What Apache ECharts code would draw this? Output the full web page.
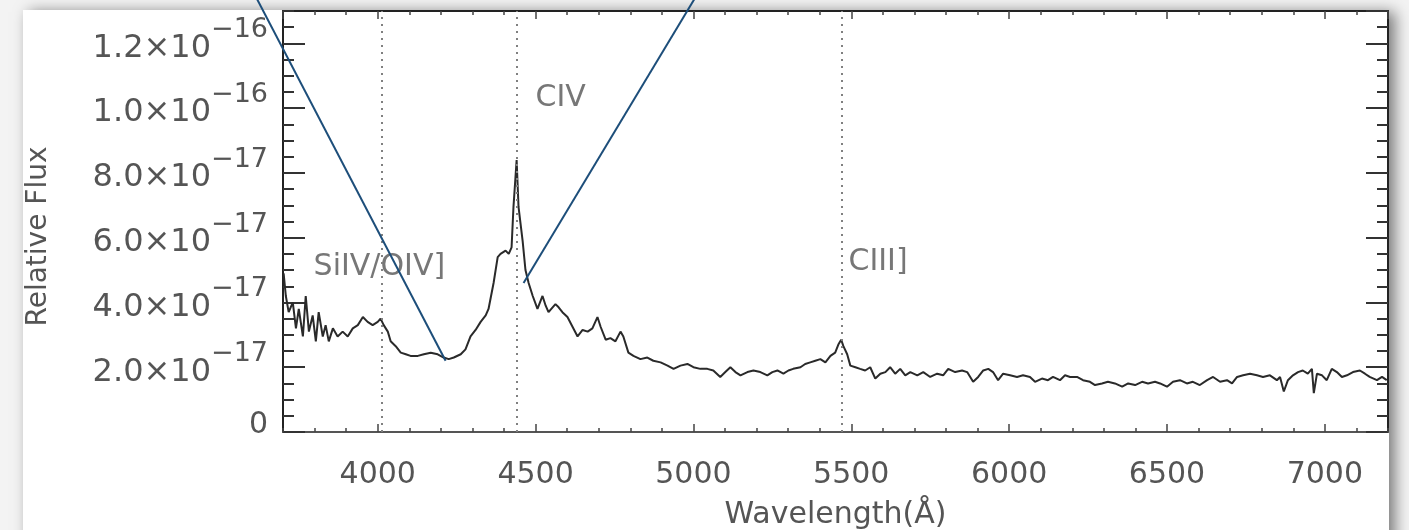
<!DOCTYPE html>
<html>
<head>
<meta charset="utf-8">
<script src="https://cdn.jsdelivr.net/npm/echarts@6/dist/echarts.min.js"></script>
<style>
  html, body { margin: 0; padding: 0; background: #f3f3f3; }
  #card {
    position: absolute; left: 23px; top: 10px; width: 1366px; height: 560px;
    background: #fff; box-shadow: 6px 2px 14px rgba(0, 0, 0, 0.5);
  }
  #main { position: absolute; left: 0; top: 0; width: 1409px; height: 530px; }
</style>
</head>
<body>
<div id="card"></div>
<div id="main"></div>
<script>
// spectrum, flux in units of 1e-17
const wavelength = [
  3702, 3709, 3718, 3731, 3741, 3750, 3763, 3772, 3782, 3794,
  3804, 3813, 3826, 3835, 3845, 3858, 3873, 3889, 3905, 3921,
  3937, 3953, 3968, 3984, 4000, 4009, 4019, 4032, 4041, 4057,
  4073, 4089, 4104, 4127, 4146, 4168, 4190, 4209, 4225, 4241,
  4263, 4278, 4294, 4310, 4326, 4342, 4351, 4367, 4380, 4389,
  4405, 4415, 4424, 4430, 4440, 4446, 4459, 4468, 4478, 4491,
  4506, 4522, 4532, 4541, 4554, 4563, 4573, 4585, 4601, 4617,
  4633, 4649, 4665, 4680, 4696, 4706, 4722, 4737, 4753, 4769,
  4778, 4794, 4810, 4832, 4854, 4873, 4896, 4918, 4937, 4959,
  4981, 5000, 5022, 5044, 5063, 5085, 5101, 5117, 5133, 5149,
  5171, 5190, 5212, 5234, 5250, 5266, 5285, 5301, 5316, 5339,
  5354, 5370, 5386, 5402, 5418, 5434, 5449, 5459, 5468, 5475,
  5487, 5497, 5513, 5528, 5544, 5560, 5576, 5592, 5608, 5623,
  5639, 5655, 5671, 5687, 5709, 5728, 5750, 5772, 5791, 5807,
  5829, 5851, 5867, 5886, 5902, 5918, 5934, 5949, 5965, 5981,
  6003, 6025, 6044, 6066, 6082, 6104, 6123, 6139, 6161, 6177,
  6193, 6215, 6234, 6256, 6272, 6294, 6313, 6335, 6358, 6377,
  6399, 6421, 6440, 6462, 6478, 6500, 6519, 6541, 6563, 6582,
  6604, 6627, 6646, 6668, 6690, 6706, 6722, 6741, 6763, 6785,
  6804, 6826, 6848, 6858, 6870, 6883, 6899, 6915, 6930, 6946,
  6959, 6965, 6975, 6991, 7006, 7022, 7038, 7054, 7070, 7089,
  7111, 7127, 7142, 7165, 7181, 7196
];
const flux = [
  4.9, 4.2, 3.7, 4.0, 3.2, 3.8, 2.95, 4.2, 3.1, 3.6,
  2.8, 3.7, 2.95, 3.3, 2.8, 3.2, 2.95, 3.1, 2.95, 3.2,
  3.3, 3.55, 3.4, 3.3, 3.4, 3.5, 3.3, 3.1, 2.8, 2.65,
  2.45, 2.4, 2.35, 2.35, 2.4, 2.45, 2.4, 2.3, 2.25, 2.3,
  2.4, 2.55, 2.95, 3.15, 3.4, 3.6, 3.8, 4.6, 5.4, 5.5,
  5.6, 5.5, 5.7, 6.95, 8.4, 6.95, 5.9, 5.0, 4.6, 4.2,
  3.8, 4.2, 3.9, 3.7, 3.85, 3.95, 3.85, 3.7, 3.55, 3.25,
  2.95, 3.15, 3.1, 3.2, 3.55, 3.25, 2.85, 2.9, 2.8, 3.1,
  2.95, 2.45, 2.35, 2.25, 2.3, 2.2, 2.15, 2.05, 1.95, 2.05,
  2.1, 2.0, 1.95, 1.95, 1.9, 1.7, 1.85, 2.0, 1.85, 1.75,
  1.85, 1.9, 1.85, 1.75, 1.85, 1.9, 1.8, 1.9, 1.95, 2.0,
  2.1, 2.15, 2.2, 2.25, 2.15, 2.35, 2.45, 2.7, 2.85, 2.65,
  2.4, 2.05, 2.0, 1.95, 1.9, 2.0, 1.65, 1.8, 1.85, 2.0,
  1.8, 1.95, 1.75, 1.85, 1.75, 1.85, 1.7, 1.8, 1.75, 1.95,
  1.85, 1.9, 1.85, 1.55, 1.7, 1.9, 1.95, 1.85, 1.6, 1.8,
  1.75, 1.7, 1.75, 1.7, 1.55, 1.65, 1.6, 1.7, 1.6, 1.75,
  1.7, 1.7, 1.6, 1.55, 1.45, 1.5, 1.55, 1.5, 1.4, 1.5,
  1.45, 1.55, 1.5, 1.55, 1.5, 1.4, 1.55, 1.6, 1.5, 1.55,
  1.45, 1.6, 1.7, 1.55, 1.6, 1.5, 1.7, 1.75, 1.8, 1.75,
  1.7, 1.75, 1.6, 1.7, 1.25, 1.6, 1.75, 1.85, 1.9, 1.8,
  1.95, 1.2, 1.8, 1.75, 1.6, 1.95, 1.85, 1.7, 1.75, 1.85,
  1.9, 1.8, 1.7, 1.6, 1.7, 1.6
];

// emission lines (observed wavelength) and their labels
const lineCenters = [4013, 4440, 5471];
const lineNames = ['SiIV/OIV]', 'CIV', 'CIII]'];
const lineLabelX = [3797, 4500, 5491];
const lineLabelY = [5.1, 10.3, 5.25];

// the two blue annotation strokes drawn over the figure (data coords)
const annotA = [[3584, 14], [4215, 2.2]];
const annotB = [[4462, 4.6], [5042, 14]];

// y tick labels
const yTickValues = [0, 2, 4, 6, 8, 10, 12];
const yTickMantissa = ['0', '2.0', '4.0', '6.0', '8.0', '1.0', '1.2'];
const yTickExponent = ['', '\u221217', '\u221217', '\u221217', '\u221217', '\u221216', '\u221216'];

const X_MIN = 3700, X_MAX = 7200;
const Y_MIN = 0, Y_MAX = 13;

const FONT = 'DejaVu Sans';
const TXT = '#555';

const chart = echarts.init(document.getElementById('main'), null, { renderer: 'canvas' });

function yLabel(v) {
  const i = yTickValues.findIndex(t => Math.abs(t - v) < 1e-6);
  if (i < 0) return '';
  if (!yTickExponent[i]) return '{z|' + yTickMantissa[i] + '}';
  return '{m|' + yTickMantissa[i] + '\u00d710}{e|' + yTickExponent[i] + '}';
}

const hidden = { show: false };

const option = {
  backgroundColor: 'transparent',
  animation: false,
  grid: { left: 283, right: 21, top: 11, bottom: 98, outerBoundsMode: 'none', containLabel: false },
  xAxis: [
    {
      type: 'value', position: 'bottom', min: X_MIN, max: X_MAX, splitNumber: 7,
      axisLine: { onZero: false, lineStyle: { color: '#555', width: 2 } },
      axisTick: { inside: true, length: 8, lineStyle: { color: '#444', width: 1.5 } },
      axisLabel: {
        fontSize: 30, color: TXT, fontFamily: FONT, margin: 28,
        showMinLabel: false, showMaxLabel: false, formatter: v => String(v)
      },
      splitLine: hidden,
      name: 'Wavelength(\u00c5)', nameLocation: 'middle', nameGap: 68,
      nameTextStyle: { fontSize: 30, color: TXT, fontFamily: FONT }
    },
    {
      type: 'value', position: 'bottom', min: X_MIN, max: X_MAX, interval: 100,
      axisLine: { show: false, onZero: false },
      axisTick: { inside: true, length: 4, lineStyle: { color: '#444', width: 1.5 } },
      axisLabel: hidden, splitLine: hidden
    },
    {
      type: 'value', position: 'top', min: X_MIN, max: X_MAX, splitNumber: 7,
      axisLine: { onZero: false, lineStyle: { color: '#222', width: 2 } },
      axisTick: { inside: true, length: 8, lineStyle: { color: '#444', width: 1.5 } },
      axisLabel: hidden, splitLine: hidden
    },
    {
      type: 'value', position: 'top', min: X_MIN, max: X_MAX, interval: 100,
      axisLine: { show: false, onZero: false },
      axisTick: { inside: true, length: 4, lineStyle: { color: '#444', width: 1.5 } },
      axisLabel: hidden, splitLine: hidden
    }
  ],
  yAxis: [
    {
      type: 'value', position: 'left', min: Y_MIN, max: Y_MAX, interval: 2,
      axisLine: { show: true, onZero: false, lineStyle: { color: '#222', width: 2 } },
      axisTick: { show: true, inside: true, length: 22, lineStyle: { color: '#333', width: 2 } },
      axisLabel: {
        margin: 15, showMaxLabel: false, formatter: yLabel,
        rich: {
          m: { fontSize: 32, color: TXT, fontFamily: FONT, padding: [10, 0, 0, 0] },
          e: { fontSize: 27, color: TXT, fontFamily: FONT, padding: [0, 0, 26, 0] },
          z: { fontSize: 30, color: TXT, fontFamily: FONT, padding: [0, 0, 14, 0] }
        }
      },
      splitLine: hidden,
      name: 'Relative Flux', nameLocation: 'middle', nameGap: 230, nameRotate: 90,
      nameTextStyle: { fontSize: 28, color: TXT, fontFamily: FONT, padding: [0, 30, 0, 0] }
    },
    {
      type: 'value', position: 'left', min: Y_MIN, max: Y_MAX, interval: 0.5,
      axisLine: { show: false, onZero: false },
      axisTick: { show: true, inside: true, length: 11, lineStyle: { color: '#333', width: 2 } },
      axisLabel: hidden, splitLine: hidden
    },
    {
      type: 'value', position: 'right', min: Y_MIN, max: Y_MAX, interval: 2,
      axisLine: { show: true, onZero: false, lineStyle: { color: '#222', width: 2 } },
      axisTick: { show: true, inside: true, length: 22, lineStyle: { color: '#333', width: 2 } },
      axisLabel: hidden, splitLine: hidden
    },
    {
      type: 'value', position: 'right', min: Y_MIN, max: Y_MAX, interval: 0.5,
      axisLine: { show: false, onZero: false },
      axisTick: { show: true, inside: true, length: 11, lineStyle: { color: '#333', width: 2 } },
      axisLabel: hidden, splitLine: hidden
    }
  ],
  series: [
    {
      name: 'spectrum', type: 'line', xAxisIndex: 0, yAxisIndex: 0,
      data: wavelength.map((w, i) => [w, flux[i]]),
      showSymbol: false, symbol: 'none',
      lineStyle: { color: '#2a2a2a', width: 2 },
      z: 3,
      markLine: {
        silent: true, symbol: 'none', animation: false,
        label: { show: false },
        lineStyle: { color: '#808080', type: [2, 5], width: 2 },
        data: lineCenters.map(c => ({ xAxis: c }))
      }
    },
    {
      name: 'line labels', type: 'scatter', xAxisIndex: 0, yAxisIndex: 0,
      symbolSize: 0, silent: true,
      data: lineNames.map((n, i) => ({ name: n, value: [lineLabelX[i], lineLabelY[i]] })),
      label: {
        show: true, position: 'right', distance: 0, formatter: p => p.name,
        fontSize: 30, color: TXT, fontFamily: FONT
      },
      z: 4
    }
  ]
};

chart.setOption(option);

// annotation strokes reach outside the plot, so map them through the axes and draw them as graphics
const toPx = p => chart.convertToPixel({ xAxisIndex: 0, yAxisIndex: 0 }, p);
chart.setOption({
  graphic: [annotA, annotB].map(seg => ({
    type: 'polyline', z: 100, silent: true,
    shape: { points: seg.map(toPx) },
    style: { stroke: '#1d4e7a', lineWidth: 2, fill: null }
  }))
});
</script>
</body>
</html>
